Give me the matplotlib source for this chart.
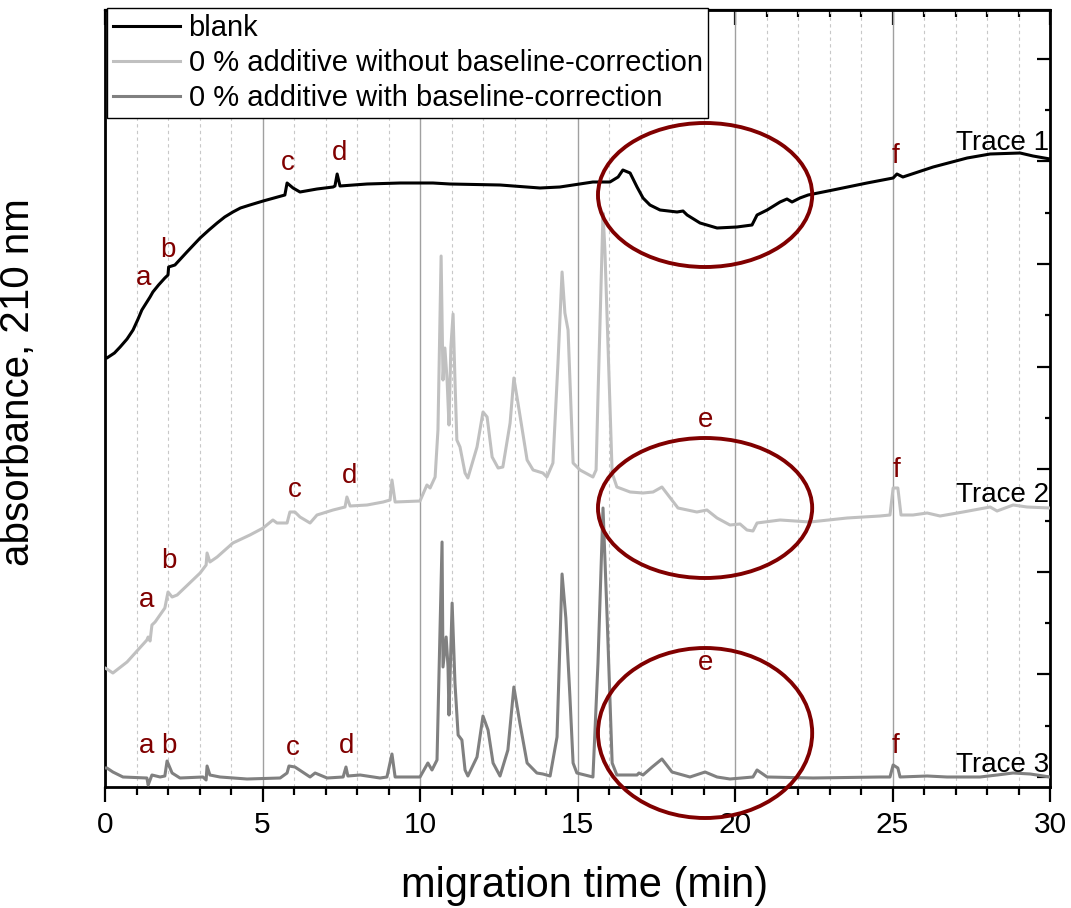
import numpy as np
import matplotlib
matplotlib.use("Agg")
import matplotlib.pyplot as plt
from matplotlib.patches import Ellipse
from matplotlib.ticker import MultipleLocator

plt.rcParams['font.family'] = ['Liberation Sans', 'DejaVu Sans']

# trace 1: blank
t1 = [0.00, 0.06, 0.30, 0.48, 0.70, 0.89, 1.05, 1.17, 1.33, 1.43, 1.52, 1.70, 1.90, 2.00, 2.02,
      2.22, 2.60, 3.02, 3.30, 3.56, 3.80, 4.06, 4.30, 4.60, 5.02, 5.71, 5.78, 5.97, 6.19, 6.73,
      7.24, 7.30, 7.37, 7.46, 8.32, 9.37, 10.41,
      10.95, 12.54, 13.81, 14.44, 15.49, 16.03, 16.29, 16.44, 16.67, 16.89, 17.08, 17.30, 17.62,
      18.16, 18.35, 18.48, 18.89, 19.43, 20.06, 20.54, 20.70, 21.02, 21.43, 21.65, 21.81, 22.06,
      22.32, 23.11, 24.19, 25.02, 25.14, 25.33, 26.29, 27.37, 28.10, 29.05, 29.46, 30.00]
a1 = [42.0, 41.9, 42.4, 43.0, 43.8, 44.7, 45.8, 46.7, 47.5, 48.0, 48.5, 49.2, 49.9, 50.2, 51.0,
      51.2, 52.5, 53.9, 54.7, 55.4, 56.0, 56.5, 56.9, 57.2, 57.6, 58.2, 59.4, 58.9, 58.5, 58.8,
      59.0, 59.1, 60.3, 59.1, 59.3, 59.4, 59.4,
      59.3, 59.2, 58.9, 59.0, 59.5, 59.5, 60.0, 60.7, 60.4, 59.0, 57.9, 57.2, 56.7,
      56.5, 56.6, 56.2, 55.4, 54.9, 55.0, 55.2, 56.2, 56.7, 57.5, 57.8, 57.5, 57.9,
      58.2, 58.7, 59.4, 59.9, 60.3, 60.0, 61.0, 61.9, 62.3, 62.4, 62.1, 61.8]

# trace 2: 0 % additive, no baseline correction
t2 = [0.00, 0.06, 0.25, 0.70, 1.33, 1.37, 1.43, 1.49, 1.59, 1.90, 2.00, 2.13, 2.29, 3.02, 3.21,
      3.24, 3.33, 3.56, 4.06, 4.60, 5.02, 5.33, 5.46, 5.78, 5.87, 6.03, 6.19, 6.51, 6.73, 7.24,
      7.62, 7.68, 7.78, 8.32, 8.83, 9.05, 9.11, 9.21, 10.00, 10.22, 10.32, 10.48, 10.57, 10.67,
      10.73, 10.79, 10.86, 10.92, 10.98, 11.05, 11.11, 11.17, 11.27, 11.43, 11.52, 11.81, 12.00,
      12.13, 12.29, 12.48, 12.63, 12.86, 12.98, 13.11, 13.40, 13.59, 13.90, 14.03, 14.22, 14.38,
      14.51, 14.60, 14.70, 14.86, 15.08, 15.49, 15.59, 15.65, 15.81, 15.87, 16.10, 16.25, 16.67,
      17.08, 17.40, 17.68, 18.19, 18.79, 19.11, 19.43, 19.84, 20.16, 20.38, 20.57, 20.70, 21.43,
      22.38, 23.56, 24.60, 24.92, 25.02, 25.17, 25.27, 25.65, 26.10, 26.51, 27.24, 28.10, 28.32,
      28.83, 29.27, 30.00]
a2 = [10.9, 10.8, 10.4, 11.5, 13.7, 14.0, 13.6, 15.2, 15.5, 16.9, 18.5, 18.0, 18.2, 20.4, 21.2,
      22.4, 21.5, 22.0, 23.4, 24.2, 24.9, 25.7, 25.4, 25.4, 26.5, 26.5, 26.0, 25.4, 26.2, 26.7,
      27.0, 28.0, 27.1, 27.2, 27.5, 27.7, 29.7, 27.5, 27.6, 29.2, 28.9, 30.0, 34.7, 52.1,
      39.7, 42.9, 39.7, 35.2, 43.0, 46.3, 39.7, 33.7, 33.0, 30.4, 29.9, 33.0, 36.5,
      36.0, 32.0, 30.9, 31.0, 35.4, 39.9, 37.4, 31.7, 30.7, 30.4, 30.0, 31.4, 41.4,
      50.5, 46.4, 44.7, 31.4, 30.7, 30.0, 30.7, 38.0, 56.4, 52.7, 30.4, 29.0, 28.5,
      28.4, 28.5, 29.0, 26.9, 26.5, 26.7, 25.9, 25.2, 25.3, 24.7, 24.6, 25.4, 25.7,
      25.5, 25.9, 26.1, 26.2, 28.9, 28.9, 26.2, 26.2, 26.4, 26.1, 26.5, 27.0, 26.6,
      27.2, 27.0, 26.9]

# trace 3: 0 % additive, baseline corrected
t3 = [0.00, 0.06, 0.25, 0.57, 1.33, 1.37, 1.43, 1.49, 1.75, 1.90, 1.97, 2.13, 2.38, 3.11, 3.21,
      3.24, 3.33, 3.65, 4.51, 5.56, 5.78, 5.84, 6.03, 6.51, 6.67, 7.05, 7.56, 7.65, 7.71, 8.10,
      8.73, 8.95, 9.11, 9.21, 9.78, 10.00, 10.25, 10.38, 10.54, 10.70, 10.73, 10.83, 10.89, 10.92,
      11.02, 11.11, 11.21, 11.33, 11.43, 11.52, 11.81, 12.00, 12.16, 12.32, 12.54, 12.79, 12.98,
      13.17, 13.40, 13.71, 13.90, 14.13, 14.35, 14.51, 14.63, 14.76, 14.86, 14.98, 15.49, 15.65,
      15.81, 15.94, 16.10, 16.25, 16.89, 16.95, 17.08, 17.37, 17.68, 18.00, 18.57, 19.05, 19.43,
      19.84, 20.57, 20.70, 21.02, 22.48, 24.60, 24.92, 25.02, 25.17, 25.24, 26.10, 26.73, 27.78,
      28.32, 28.83, 29.37, 30.00]
a3 = [0.9, 0.9, 0.5, 0.0, -0.1, -0.8, -0.3, 0.2, 0.0, 0.1, 1.6, 0.4, -0.1, 0.0, -0.3,
      1.1, 0.2, 0.0, -0.2, -0.1, 0.4, 1.1, 1.0, 0.0, 0.4, -0.1, 0.0, 1.0, 0.1, 0.2,
      -0.1, 0.0, 2.3, 0.0, 0.0, 0.0, 1.4, 0.7, 1.7, 23.5, 11.0, 14.0, 11.0, 6.2,
      17.4, 9.4, 4.2, 3.7, 0.7, 0.1, 2.0, 6.1, 4.7, 1.4, 0.1, 2.7, 9.0,
      5.4, 1.4, 0.4, 0.3, 0.1, 4.0, 20.3, 15.9, 8.0, 1.4, 0.4, 0.0, 11.4,
      26.9, 16.0, 1.4, 0.2, 0.2, 0.4, 0.2, 1.0, 1.8, 0.5, 0.0, 0.5, 0.0,
      -0.2, 0.0, 0.7, 0.0, -0.1, 0.0, 0.0, 1.2, 0.9, 0.0, 0.1, 0.0, 0.0,
      0.2, 0.4, 0.3, 0.0]

series_names = ["blank", "0 % additive without baseline-correction",
                "0 % additive with baseline-correction"]
series_colors = ["black", "#c0c0c0", "#808080"]

# peak letters: (letter, time, baseline height)
marks_1 = [("a", 1.21, 49.2), ("b", 2.00, 52.0), ("c", 5.81, 60.7), ("d", 7.46, 61.7), ("f", 25.08, 61.4)]
marks_2 = [("a", 1.33, 17.0), ("b", 2.03, 20.9), ("c", 6.03, 28.0), ("d", 7.75, 29.4),
           ("e", 19.05, 35.0), ("f", 25.14, 30.0)]
marks_3 = [("a", 1.33, 2.4), ("b", 2.03, 2.4), ("c", 5.97, 2.2), ("d", 7.68, 2.4),
           ("e", 19.05, 10.7), ("f", 25.08, 2.4)]
trace_names = ["Trace 1", "Trace 2", "Trace 3"]
trace_name_y = [62.7, 27.5, 0.5]

# circled region "e"
ell_x = 19.05
ell_w = 6.8
ell_y = [58.2, 26.9, 4.4]
ell_h = [14.4, 14.0, 17.0]

red = "#800000"

fig = plt.figure(figsize=(10.71, 9.08), dpi=100)
ax = fig.add_axes([105 / 1071, 121 / 908, 945 / 1071, 777 / 908])

for t, a, name, col in zip([t1, t2, t3], [a1, a2, a3], series_names, series_colors):
    ax.plot(t, a, color=col, lw=2.2, label=name, zorder=3)

for marks in [marks_1, marks_2, marks_3]:
    for letter, x, y in marks:
        ax.text(x, y, letter, color=red, fontsize=20, ha="center", va="baseline", zorder=5)

for name, y in zip(trace_names, trace_name_y):
    ax.text(29.97, y, name, color="black", fontsize=20, ha="right", va="baseline", zorder=5)

for y, h in zip(ell_y, ell_h):
    ax.add_patch(Ellipse((ell_x, y), ell_w, h, fill=False, edgecolor=red, lw=2.8,
                         zorder=6, clip_on=False))

ax.set_xlim(0, 30)
ax.set_ylim(-1.0, 76.7)

ax.xaxis.set_major_locator(MultipleLocator(5))
ax.xaxis.set_minor_locator(MultipleLocator(1))
ax.tick_params(axis="x", which="major", direction="out", length=11, width=1.6,
               labelsize=21.5, pad=6)
ax.tick_params(axis="x", which="minor", direction="out", length=5.5, width=1.6)

ax.yaxis.tick_right()
ax.yaxis.set_major_locator(MultipleLocator(10.26))
ax.yaxis.set_minor_locator(MultipleLocator(5.13))
ax.tick_params(axis="y", which="major", direction="in", length=9.5, width=1.6, labelright=False)
ax.tick_params(axis="y", which="minor", direction="in", length=3.8, width=1.6)

top = ax.secondary_xaxis("top")
top.xaxis.set_major_locator(MultipleLocator(5))
top.xaxis.set_minor_locator(MultipleLocator(1))
top.tick_params(axis="x", which="major", direction="in", length=11, width=1.6, labeltop=False)
top.tick_params(axis="x", which="minor", direction="in", length=5, width=1.6)
top.spines["top"].set_linewidth(1.6)

for s in ax.spines.values():
    s.set_linewidth(2.0)

ax.grid(which="major", axis="x", color="#a0a0a0", lw=1.0, ls="-")
ax.grid(which="minor", axis="x", color="#c8c8c8", lw=0.8, ls=(0, (3, 3)))
ax.set_axisbelow(True)

ax.set_xlabel("migration time (min)", fontsize=30)
ax.xaxis.set_label_coords(0.508, -0.102)
ax.set_ylabel("absorbance, 210 nm", fontsize=29)
ax.yaxis.set_label_position("left")
ax.yaxis.set_label_coords(-0.072, 0.521)

leg = ax.legend(loc="upper left", bbox_to_anchor=(0.002, 1.0026), fontsize=21,
                frameon=True, fancybox=False, framealpha=1, edgecolor="black",
                handlelength=2.3, handletextpad=0.3, labelspacing=0.25,
                borderpad=0.2, borderaxespad=0)
leg.get_frame().set_linewidth(1.0)
leg.set_zorder(10)

fig.savefig("out.png", dpi=100)
